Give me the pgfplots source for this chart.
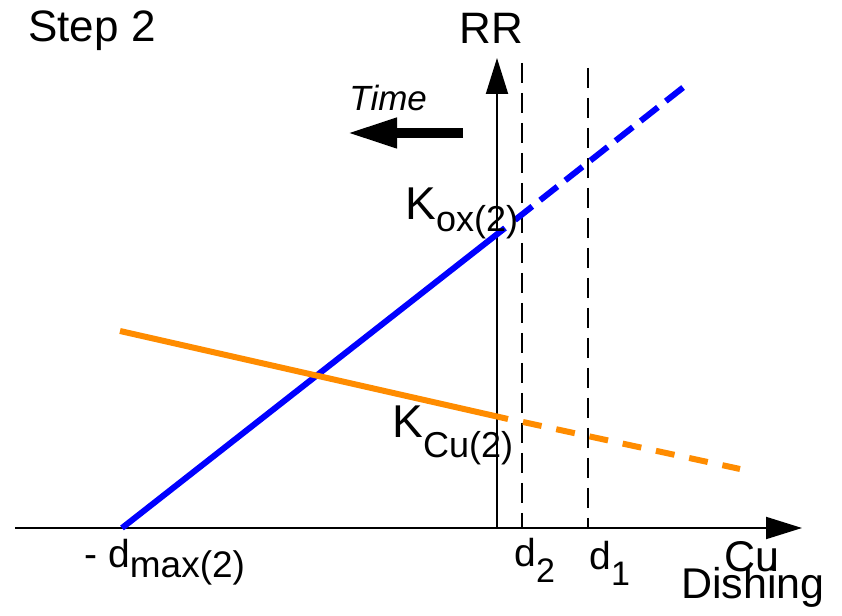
\documentclass[border=0pt]{standalone}
\usepackage{pgfplots}
\pgfplotsset{compat=1.18}
\usepackage{fontspec}
\setmainfont{Liberation Sans}
\usetikzlibrary{arrows.meta}
\definecolor{myorange}{RGB}{255,140,0}
\definecolor{myblue}{RGB}{0,0,255}
\newcommand{\fs}[1]{\fontsize{#1}{#1}\selectfont}
\begin{document}
\begin{tikzpicture}
\begin{axis}[
  x=0.5pt, y=0.5pt,
  xmin=0, xmax=842, ymin=0, ymax=616,
  hide axis, clip=false,
]
\coordinate (bl) at (axis cs:0,0);
\coordinate (tr) at (axis cs:842,616);
% axes
\addplot[black, line width=1pt, -{Triangle[length=18pt,width=11pt]}] coordinates {(15,88) (802,88)};
\addplot[black, line width=1pt, -{Triangle[length=18pt,width=11pt]}] coordinates {(497,88) (497,558)};
% dashed verticals d2, d1
\addplot[black, line width=1.1pt, dash pattern=on 10pt off 5pt] coordinates {(522,553) (522,88)};
\addplot[black, line width=1.1pt, dash pattern=on 10pt off 5pt] coordinates {(588,548) (588,88)};
% blue line K_ox
\addplot[myblue, line width=3pt] coordinates {(122,88) (505,388)};
\addplot[myblue, line width=3pt, dash pattern=on 11pt off 5pt] coordinates {(515,396) (685,530)};
% orange line K_Cu
\addplot[myorange, line width=3pt] coordinates {(120,285) (508,197)};
\addplot[myorange, line width=3pt, dash pattern=on 9.5pt off 7.5pt] coordinates {(523,194) (740,147)};
% time arrow
\addplot[black, line width=5pt, -{Triangle[length=25pt,width=14pt]}] coordinates {(463,483) (347,483)};
% texts
\node[anchor=base west, inner sep=0pt, font=\fs{22pt}] at (axis cs:28,574) {Step 2};
\node[anchor=base west, inner sep=0pt, font=\fs{22pt}] at (axis cs:459,572) {RR};
\node[anchor=base west, inner sep=0pt, font=\fs{17.5pt}\itshape] at (axis cs:349,505) {Time};
\node[anchor=base west, inner sep=0pt, font=\fs{23pt}] at (axis cs:405,396) {K\raisebox{-6pt}{\fs{18pt}ox(2)}};
\node[anchor=base west, inner sep=0pt, font=\fs{23pt}] at (axis cs:392,178) {K\raisebox{-10pt}{\fs{18pt}Cu(2)}};
\node[anchor=base west, inner sep=0pt, font=\fs{19.5pt}] at (axis cs:84,48) {- d\raisebox{-5pt}{\fs{18.5pt}max(2)}};
\node[anchor=base west, inner sep=0pt, font=\fs{19.5pt}] at (axis cs:514,49) {d\raisebox{-8pt}{\fs{17pt}2}};
\node[anchor=base west, inner sep=0pt, font=\fs{19.5pt}] at (axis cs:589,46) {d\raisebox{-8pt}{\fs{17pt}1}};
\node[anchor=base west, inner sep=0pt, font=\fs{21.5pt}] at (axis cs:724,44) {Cu};
\node[anchor=base west, inner sep=0pt, font=\fs{21.5pt}] at (axis cs:681,18) {Dishing};
\end{axis}
\pgfresetboundingbox
\path[use as bounding box] (bl) rectangle (tr);
\end{tikzpicture}
\end{document}
